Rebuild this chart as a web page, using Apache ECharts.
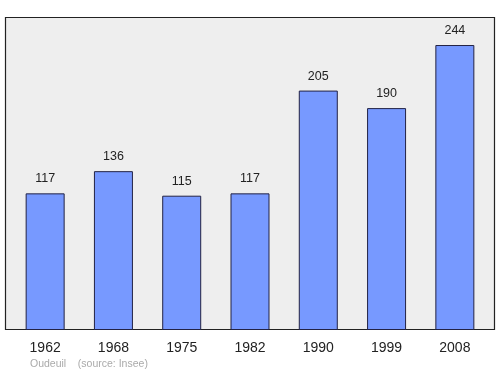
<!DOCTYPE html>
<html><head><meta charset="utf-8">
<script src="https://cdn.jsdelivr.net/npm/echarts@6/dist/echarts.min.js"></script>
<style>html,body{margin:0;padding:0;background:#fff}#c{width:500px;height:374px}</style>
</head><body><div id="c"></div>
<script>
var years = ['1962','1968','1975','1982','1990','1999','2008'];
var population = [117,136,115,117,205,190,244];
var place = 'Oudeuil';
var source = '(source: Insee)';

var chart = echarts.init(document.getElementById('c'), null, {renderer:'canvas'});
chart.setOption({
  animation:false,
  backgroundColor:'#ffffff',
  graphic:[
    {type:'rect', z:-10, shape:{x:5.5,y:17.5,width:489,height:312}, style:{fill:'#eeeeee', stroke:'#222222', lineWidth:1.2}},
    {type:'text', left:30, top:359, style:{text:place+'    '+source, fill:'#aaaaaa', font:'10.5px "Liberation Sans", Arial, sans-serif'}}
  ],
  grid:{left:11,right:11,top:17,bottom:44},
  xAxis:{type:'category', data:years,
    axisLine:{show:false}, axisTick:{show:false},
    axisLabel:{color:'#222', fontSize:14, margin:11, fontFamily:'Liberation Sans, Arial, sans-serif'}},
  yAxis:{type:'value', min:0, max:268, show:false, splitLine:{show:false}},
  series:[{type:'bar', data:population, barWidth:39,
    itemStyle:{color:'#7799ff', borderColor:'#222244', borderWidth:1},
    label:{show:true, position:'top', distance:8, color:'#222', fontSize:12.5, fontFamily:'Liberation Sans, Arial, sans-serif'}}]
});
</script></body></html>
